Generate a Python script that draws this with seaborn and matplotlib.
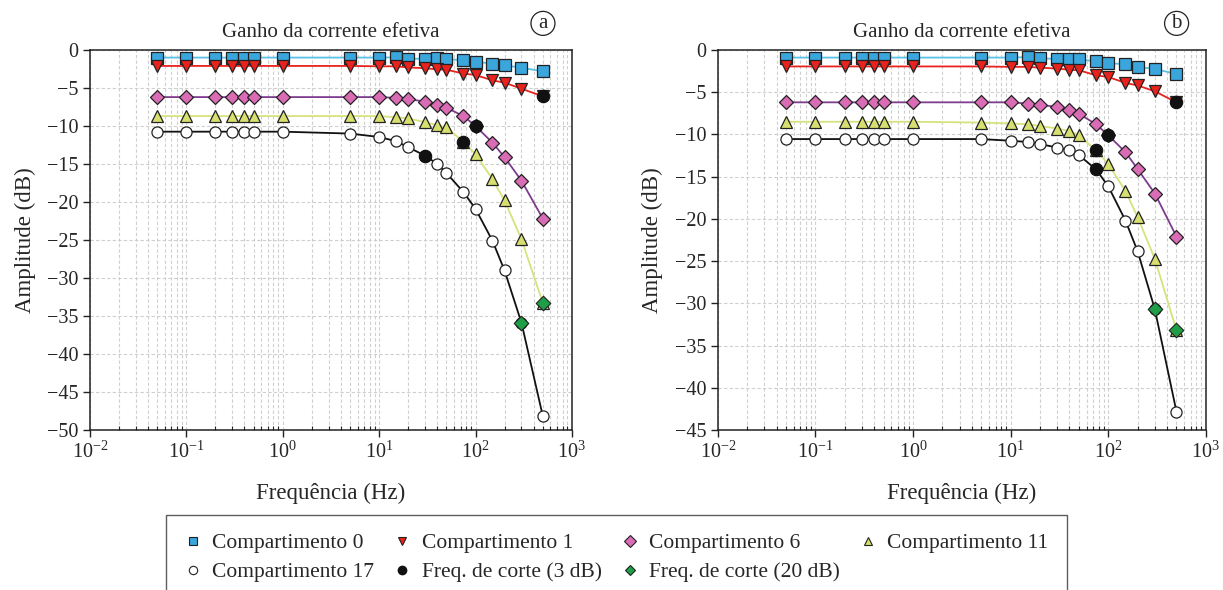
import numpy as np
import pandas as pd
import seaborn as sns
import matplotlib
matplotlib.use("Agg")
import matplotlib.pyplot as plt
from matplotlib.lines import Line2D
from matplotlib.ticker import LogLocator, MultipleLocator, NullFormatter

sns.set_theme(style="white")
plt.rcParams['font.family'] = ['Liberation Serif', 'DejaVu Serif']
plt.rcParams['mathtext.fontset'] = 'stix'

freq = [0.05, 0.1, 0.2, 0.3, 0.4, 0.5, 1, 5, 10, 15, 20, 30, 40, 50, 75, 100, 150, 200, 300, 500]

# painel (a)
c0_a = [-1.0, -1.0, -1.0, -1.0, -1.0, -1.0, -1.0, -1.0, -1.0, -0.97, -1.15, -1.15, -1.1, -1.2, -1.35, -1.55, -1.8, -2.0, -2.35, -2.8]
c1_a = [-2.1, -2.1, -2.1, -2.1, -2.1, -2.1, -2.1, -2.1, -2.15, -2.15, -2.3, -2.4, -2.55, -2.6, -3.1, -3.3, -4.0, -4.3, -5.1, -6.1]
c6_a = [-6.2, -6.2, -6.2, -6.2, -6.2, -6.2, -6.2, -6.2, -6.2, -6.3, -6.45, -6.8, -7.2, -7.6, -8.7, -10.0, -12.2, -14.1, -17.2, -22.2]
c11_a = [-8.7, -8.7, -8.7, -8.7, -8.7, -8.7, -8.7, -8.7, -8.7, -8.85, -9.0, -9.5, -9.9, -10.2, -12.1, -13.7, -17.0, -19.8, -24.9, -33.3]
c17_a = [-10.75, -10.75, -10.75, -10.75, -10.75, -10.75, -10.75, -11.0, -11.45, -12.0, -12.8, -13.9, -15.0, -16.2, -18.7, -20.9, -25.1, -29.0, -35.9, -48.2]
cut3_a_x = [500, 100, 75, 30]
cut3_a_y = [-6.1, -10.0, -12.1, -13.9]
cut20_a_x = [300, 500]
cut20_a_y = [-35.9, -33.3]

# painel (b)
c0_b = [-0.9, -0.9, -0.9, -0.9, -0.9, -0.9, -0.9, -0.9, -0.9, -0.85, -1.0, -1.05, -1.05, -1.1, -1.35, -1.6, -1.65, -2.0, -2.25, -2.85]
c1_b = [-1.95, -1.95, -1.95, -1.95, -1.95, -1.95, -1.95, -1.95, -2.0, -2.0, -2.1, -2.2, -2.35, -2.4, -3.0, -3.2, -3.9, -4.2, -4.9, -6.2]
c6_b = [-6.2, -6.2, -6.2, -6.2, -6.2, -6.2, -6.2, -6.2, -6.2, -6.35, -6.5, -6.75, -7.15, -7.55, -8.8, -10.1, -12.1, -14.1, -17.0, -22.1]
c11_b = [-8.5, -8.5, -8.5, -8.5, -8.5, -8.5, -8.5, -8.6, -8.7, -8.8, -9.0, -9.3, -9.6, -10.1, -11.9, -13.5, -16.7, -19.8, -24.75, -33.2]
c17_b = [-10.55, -10.55, -10.55, -10.55, -10.55, -10.55, -10.55, -10.55, -10.75, -10.9, -11.15, -11.55, -11.9, -12.45, -14.15, -16.15, -20.2, -23.85, -30.7, -42.85]
cut3_b_x = [500, 100, 75, 75]
cut3_b_y = [-6.2, -10.1, -11.9, -14.15]
cut20_b_x = [300, 500]
cut20_b_y = [-30.7, -33.2]

labels = ["Compartimento 0", "Compartimento 1", "Compartimento 6", "Compartimento 11", "Compartimento 17"]
markers = ["s", "v", "D", "^", "o"]
line_colors = ["#5bc2e7", "#e8221c", "#7e3b8e", "#d6e27c", "#111111"]
face_colors = ["#3aa6dc", "#e8221c", "#d96cb5", "#d7df6f", "#ffffff"]
msizes = [8, 8, 7, 8, 8]

fig = plt.figure(figsize=(12.23, 5.9), dpi=100)
ax_a = fig.add_axes([0.0736, 0.2712, 0.394, 0.6441])
ax_b = fig.add_axes([0.587, 0.2712, 0.399, 0.6441])

panels = [
    (ax_a, [c0_a, c1_a, c6_a, c11_a, c17_a], cut3_a_x, cut3_a_y, cut20_a_x, cut20_a_y, -50, "a"),
    (ax_b, [c0_b, c1_b, c6_b, c11_b, c17_b], cut3_b_x, cut3_b_y, cut20_b_x, cut20_b_y, -45, "b"),
]

for ax, series, c3x, c3y, c20x, c20y, ymin, tag in panels:
    for i, vals in enumerate(series):
        sns.lineplot(x=freq, y=vals, ax=ax, color=line_colors[i], lw=1.3,
                     marker=markers[i], markersize=msizes[i],
                     markerfacecolor=face_colors[i], markeredgecolor="#222222",
                     markeredgewidth=0.9, zorder=3 + i * 0.1)
    sns.scatterplot(x=c3x, y=c3y, ax=ax, marker="o", s=80, color="#111111",
                    edgecolor="#111111", linewidth=0.8, zorder=6)
    sns.scatterplot(x=c20x, y=c20y, ax=ax, marker="D", s=55, color="#1e9e47",
                    edgecolor="#222222", linewidth=0.8, zorder=6)

    ax.set_xscale("log")
    ax.set_xlim(1e-2, 1e3)
    ax.set_ylim(ymin, 0)
    ax.yaxis.set_major_locator(MultipleLocator(5))
    ax.xaxis.set_major_locator(LogLocator(base=10, numticks=10))
    ax.xaxis.set_minor_locator(LogLocator(base=10, subs=np.arange(2, 10), numticks=10))
    ax.xaxis.set_minor_formatter(NullFormatter())
    ax.grid(True, which="major", ls=(0, (3, 2)), color="#cfcfcf", lw=0.8)
    ax.grid(True, which="minor", axis="x", ls=(0, (3, 2)), color="#cfcfcf", lw=0.8)
    ax.tick_params(axis="both", which="major", direction="out", length=5, width=1,
                   labelsize=14.5, color="#222222", left=True, bottom=True)
    ax.tick_params(axis="x", which="minor", direction="in", length=3, width=0.8,
                   color="#222222", bottom=True)
    ax.yaxis.set_major_formatter(matplotlib.ticker.FuncFormatter(
        lambda v, p: "0" if v == 0 else "\u2212%d" % abs(v)))
    for s in ax.spines.values():
        s.set_color("#222222")
        s.set_linewidth(1.1)
    ax.set_xlabel("Frequência (Hz)", fontsize=16.5, labelpad=14)
    ax.set_ylabel("Amplitude (dB)", fontsize=16.5, labelpad=8)
    ax.set_title("Ganho da corrente efetiva", fontsize=15, pad=9)
    ax.text(0.94, 1.07, tag, transform=ax.transAxes, fontsize=15, ha="center", va="center",
            bbox=dict(boxstyle="circle,pad=0.12", fc="white", ec="#222222", lw=0.9))
    if ax.get_legend() is not None:
        ax.get_legend().remove()

handles = []
for i in range(5):
    handles.append(Line2D([], [], ls="none", marker=markers[i], markersize=6,
                          markerfacecolor=face_colors[i], markeredgecolor="#222222",
                          markeredgewidth=0.8))
h_c3 = Line2D([], [], ls="none", marker="o", markersize=6, markerfacecolor="#111111",
              markeredgecolor="#111111")
h_c20 = Line2D([], [], ls="none", marker="D", markersize=5, markerfacecolor="#1e9e47",
               markeredgecolor="#222222", markeredgewidth=0.8)
all_labels = labels + ["Freq. de corte (3 dB)", "Freq. de corte (20 dB)"]
all_handles = handles + [h_c3, h_c20]
order = [0, 4, 1, 5, 2, 6, 3]
leg = fig.legend([all_handles[k] for k in order], [all_labels[k] for k in order],
                 loc="upper center", bbox_to_anchor=(616.5 / 1223, 1 - 515 / 590),
                 borderaxespad=0, ncol=4, fontsize=15.5, frameon=True, fancybox=False,
                 edgecolor="#333333", handlelength=0.8, handletextpad=0.5,
                 columnspacing=0.9, borderpad=0.85, labelspacing=0.4)
leg.get_frame().set_linewidth(1.0)

fig.savefig("out.png", dpi=100)
